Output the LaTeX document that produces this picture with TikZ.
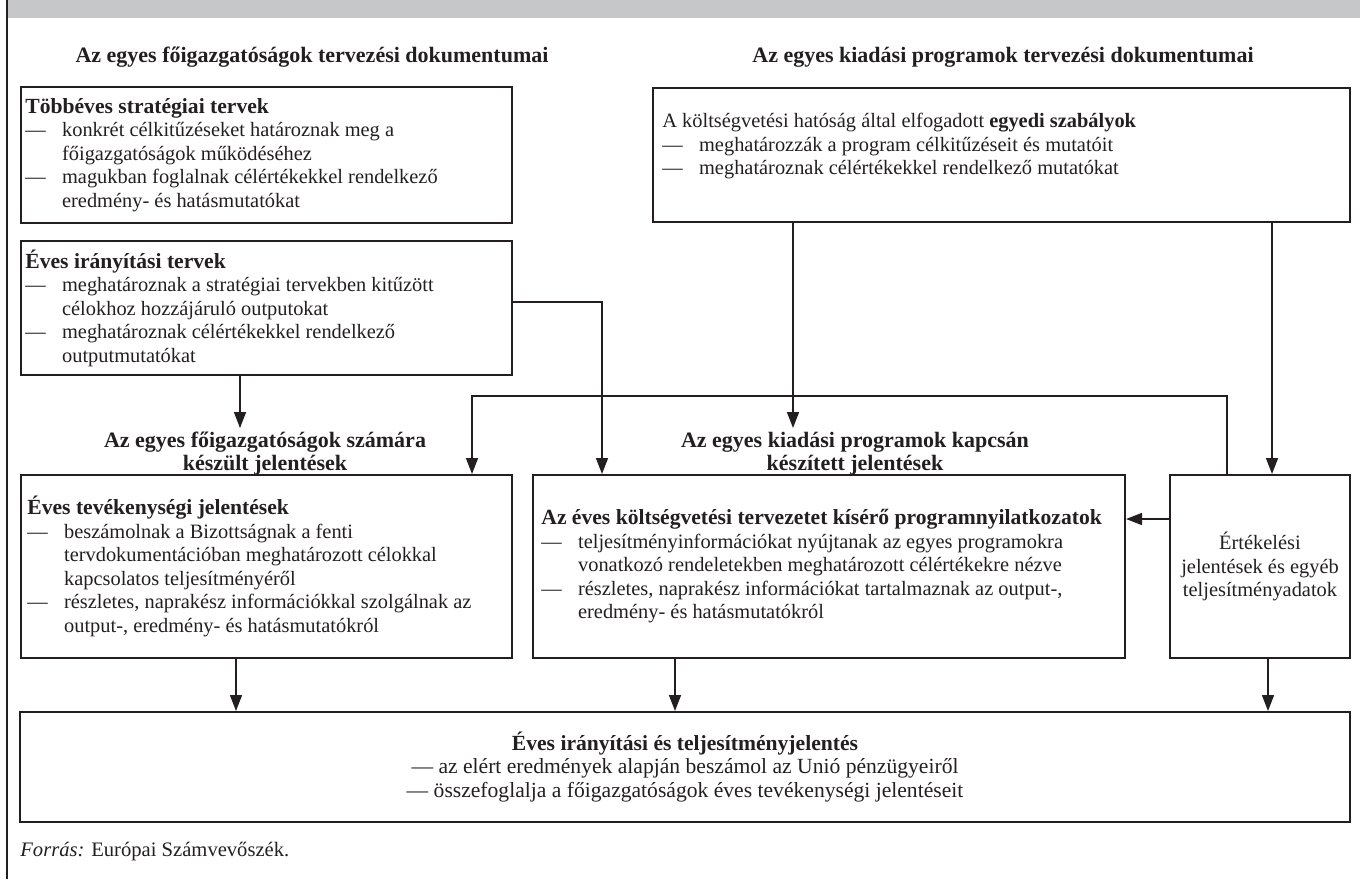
\documentclass[tikz,border=0pt]{standalone}
\usepackage{fontspec}
\setmainfont{Liberation Serif}
\usetikzlibrary{arrows.meta}
\newcommand\dl{\makebox[1.8em][l]{—}}
\newcommand\ind{\hspace*{1.8em}}
\newcommand\ttl[1]{{\fontsize{10.8}{11.75}\selectfont\bfseries #1}}
\definecolor{band}{HTML}{C6C7C9}
\definecolor{ink}{HTML}{231F20}
\tikzset{
  box/.style={draw=ink, line width=1pt, rectangle, inner sep=0pt},
  txt/.style={text=ink, font=\fontsize{10.2}{11.75}\selectfont, align=left, inner sep=0pt},
  ctxt/.style={txt, align=center},
  hdr/.style={text=ink, font=\fontsize{11}{11.5}\selectfont\bfseries, align=center, inner sep=0pt},
  conn/.style={draw=ink, line width=0.8pt},
  arr/.style={conn, -{Triangle[length=8pt,width=6pt]}},
}
\begin{document}
\begin{tikzpicture}[x=0.5pt,y=-0.5pt]
\useasboundingbox (0,0) rectangle (1360,879);
% band and frame
\fill[band] (7,0) rectangle (1360,18);
\draw[ink, line width=1pt] (7,0) -- (7,879);
% top headers
\node[hdr, anchor=base] (hA) at (312,62) {Az egyes főigazgatóságok tervezési dokumentumai};
\node[hdr, anchor=base] (hB) at (1003,62) {Az egyes kiadási programok tervezési dokumentumai};
% row 1 boxes
\node[box, minimum width=245.5pt, minimum height=68pt] (b1) at (266.5,155) {};
\node[txt, anchor=west] (t1) at ([xshift=2.5pt]b1.west) {\ttl{Többéves stratégiai tervek}\\
\dl konkrét célkitűzéseket határoznak meg a\\
\ind főigazgatóságok működéséhez\\
\dl magukban foglalnak célértékekkel rendelkező\\
\ind eredmény- és hatásmutatókat};
\node[box, minimum width=245.5pt, minimum height=67pt] (b2) at (266.5,308) {};
\node[txt, anchor=west] (t2) at ([xshift=2.5pt]b2.west) {\ttl{Éves irányítási tervek}\\
\dl meghatároznak a stratégiai tervekben kitűzött\\
\ind célokhoz hozzájáruló outputokat\\
\dl meghatároznak célértékekkel rendelkező\\
\ind outputmutatókat};
\node[box, minimum width=348.5pt, minimum height=67pt] (b3) at (1001.5,154.5) {};
\node[txt, anchor=west] (t3) at ([xshift=5pt,yshift=4pt]b3.west) {A költségvetési hatóság által elfogadott \textbf{egyedi szabályok}\\
\dl meghatározzák a program célkitűzéseit és mutatóit\\
\dl meghatároznak célértékekkel rendelkező mutatókat};
% row 2 headers
\node[hdr, anchor=south] (hC) at (265,476) {Az egyes főigazgatóságok számára\\készült jelentések};
\node[hdr, anchor=south] (hD) at (855,476) {Az egyes kiadási programok kapcsán\\készített jelentések};
% row 2 boxes
\node[box, minimum width=245.5pt, minimum height=91.5pt] (bL) at (266.5,566.5) {};
\node[txt, anchor=west] (tL) at ([xshift=3.5pt]bL.west) {\ttl{Éves tevékenységi jelentések}\\
\dl beszámolnak a Bizottságnak a fenti\\
\ind tervdokumentációban meghatározott célokkal\\
\ind kapcsolatos teljesítményéről\\
\dl részletes, naprakész információkkal szolgálnak az\\
\ind output-, eredmény- és hatásmutatókról};
\node[box, minimum width=296pt, minimum height=91.5pt] (bM) at (829,566.5) {};
\node[txt, anchor=west] (tM) at ([xshift=4.5pt]bM.west) {\ttl{Az éves költségvetési tervezetet kísérő programnyilatkozatok}\\
\dl teljesítményinformációkat nyújtanak az egyes programokra\\
\ind vonatkozó rendeletekben meghatározott célértékekre nézve\\
\dl részletes, naprakész információkat tartalmaznak az output-,\\
\ind eredmény- és hatásmutatókról};
\node[box, minimum width=90pt, minimum height=91.5pt] (bR) at (1260,566.5) {};
\node[ctxt] (tR) at (bR) {Értékelési\\jelentések és egyéb\\teljesítményadatok};
% final box
\node[box, minimum width=665pt, minimum height=55pt] (bF) at (685,767) {};
\node[ctxt, font=\fontsize{10.8}{11.75}\selectfont] (tF) at (bF) {\textbf{Éves irányítási és teljesítményjelentés}\\
— az elért eredmények alapján beszámol az Unió pénzügyeiről\\
— összefoglalja a főigazgatóságok éves tevékenységi jelentéseit};
% source
\node[txt, anchor=base west, font=\fontsize{10.3}{11}\selectfont] (src) at (20,856) {\textit{Forrás:} Európai Számvevőszék.};
% junction coordinates
\coordinate (cA) at (240,428);
\coordinate (cB) at (602,302);
\coordinate (cC) at (793,428);
\coordinate (cD) at (1272,300);
\coordinate (cE) at (1227,396);
\coordinate (cF) at (472,396);
\coordinate (cG) at (1150,519);
\coordinate (cH) at (236,690);
\coordinate (cI) at (675,690);
\coordinate (cJ) at (1268,690);
% connectors
\draw[arr] (b2.south -| cA) -- (cA);
\draw[arr] (b2.east |- cB) -- (cB) -- (bM.north -| cB);
\draw[arr] (b3.south -| cC) -- (cC);
\draw[arr] (b3.south -| cD) -- (bR.north -| cD);
\draw[arr] (bR.north -| cE) -- (cE) -- (cF) -- (bL.north -| cF);
\draw[arr] (bR.west |- cG) -- (bM.east |- cG);
\draw[arr] (bL.south -| cH) -- (bF.north -| cH);
\draw[arr] (bM.south -| cI) -- (bF.north -| cI);
\draw[arr] (bR.south -| cJ) -- (bF.north -| cJ);
\end{tikzpicture}
\end{document}
